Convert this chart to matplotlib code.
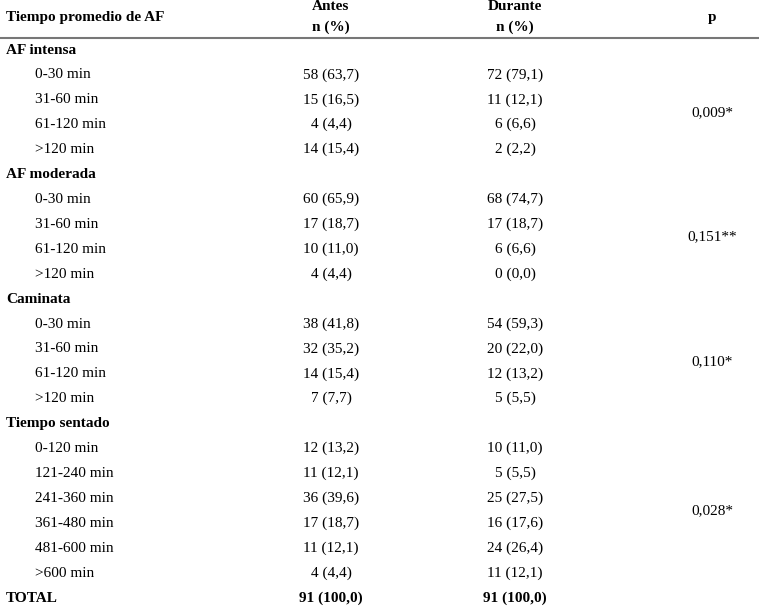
import matplotlib
matplotlib.use("Agg")
import matplotlib.pyplot as plt

sections = ["AF intensa", "AF moderada", "Caminata", "Tiempo sentado"]
items = [
    ["0-30 min", "31-60 min", "61-120 min", ">120 min"],
    ["0-30 min", "31-60 min", "61-120 min", ">120 min"],
    ["0-30 min", "31-60 min", "61-120 min", ">120 min"],
    ["0-120 min", "121-240 min", "241-360 min", "361-480 min", "481-600 min", ">600 min"],
]
antes = [
    ["58 (63,7)", "15 (16,5)", "4 (4,4)", "14 (15,4)"],
    ["60 (65,9)", "17 (18,7)", "10 (11,0)", "4 (4,4)"],
    ["38 (41,8)", "32 (35,2)", "14 (15,4)", "7 (7,7)"],
    ["12 (13,2)", "11 (12,1)", "36 (39,6)", "17 (18,7)", "11 (12,1)", "4 (4,4)"],
]
durante = [
    ["72 (79,1)", "11 (12,1)", "6 (6,6)", "2 (2,2)"],
    ["68 (74,7)", "17 (18,7)", "6 (6,6)", "0 (0,0)"],
    ["54 (59,3)", "20 (22,0)", "12 (13,2)", "5 (5,5)"],
    ["10 (11,0)", "5 (5,5)", "25 (27,5)", "16 (17,6)", "24 (26,4)", "11 (12,1)"],
]
pvals = ["0,009*", "0,151**", "0,110*", "0,028*"]
total = ["TOTAL", "91 (100,0)", "91 (100,0)"]

W, H = 759, 607
fig = plt.figure(figsize=(W / 100, H / 100), dpi=100)
ax = fig.add_axes([0, 0, 1, 1])
ax.set_xlim(0, W)
ax.set_ylim(H, 0)
ax.axis("off")
plt.rcParams["font.family"] = ["Liberation Serif", "DejaVu Serif"]
fs = 11
xa, xd, xp = 331, 515, 712

ax.text(6, 17, "Tiempo promedio de AF", fontsize=fs, weight="bold", va="center")
ax.text(xa, 7, "Antes", fontsize=fs, weight="bold", va="center", ha="center")
ax.text(xa, 27, "n (%)", fontsize=fs, weight="bold", va="center", ha="center")
ax.text(xd, 7, "Durante", fontsize=fs, weight="bold", va="center", ha="center")
ax.text(xd, 27, "n (%)", fontsize=fs, weight="bold", va="center", ha="center")
ax.text(xp, 18, "p", fontsize=fs, weight="bold", va="center", ha="center")
ax.plot([0, W], [37.5, 37.5], color="#777777", lw=1.5)

step = (598 - 50) / 22
y = 50
for s, its, a, d, p in zip(sections, items, antes, durante, pvals):
    ax.text(6, y, s, fontsize=fs, weight="bold", va="center")
    y += step
    y0 = y
    for it, av, dv in zip(its, a, d):
        ax.text(35, y, it, fontsize=fs, va="center")
        ax.text(xa, y, av, fontsize=fs, va="center", ha="center")
        ax.text(xd, y, dv, fontsize=fs, va="center", ha="center")
        y += step
    ax.text(xp, (y0 + y - step) / 2, p, fontsize=fs, va="center", ha="center")
ax.text(6, y, total[0], fontsize=fs, weight="bold", va="center")
ax.text(xa, y, total[1], fontsize=fs, weight="bold", va="center", ha="center")
ax.text(xd, y, total[2], fontsize=fs, weight="bold", va="center", ha="center")

fig.savefig("out.png", dpi=100)
